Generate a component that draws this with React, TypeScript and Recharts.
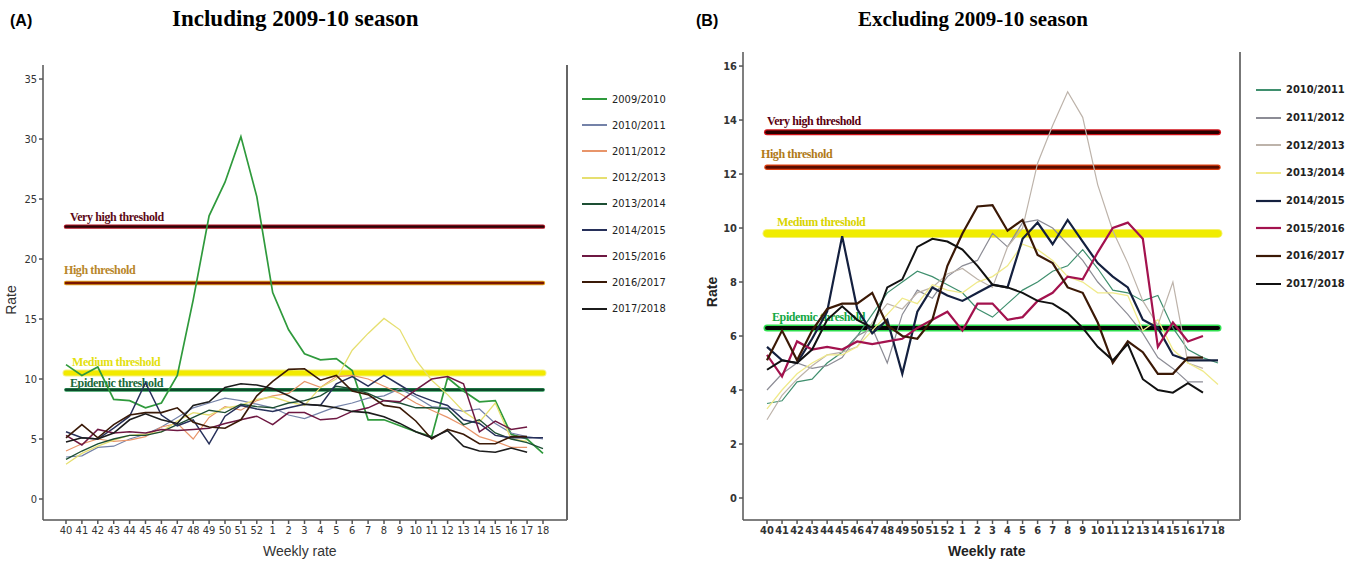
import React from 'react';
import { LineChart, Line, XAxis, YAxis, ReferenceLine } from 'recharts';

// epidemiological weeks, season runs from week 40 to week 18
const weeks = ['40', '41', '42', '43', '44', '45', '46', '47', '48', '49', '50', '51', '52',
  '1', '2', '3', '4', '5', '6', '7', '8', '9', '10', '11', '12', '13', '14', '15', '16', '17', '18'];

const s0910 = [11.2, 10.3, 11.0, 8.3, 8.2, 7.6, 8.0, 10.3, 16.6, 23.6, 26.4, 30.2, 25.2, 17.2, 14.1, 12.1, 11.6, 11.7, 10.7, 6.6, 6.6, 6.1, 5.6, 5.2, 10.1, 9.0, 8.1, 8.2, 5.4, 5.0, 3.8];
const s1011 = [3.5, 3.6, 4.3, 4.4, 5.0, 5.4, 6.0, 6.8, 7.6, 8.0, 8.4, 8.2, 7.9, 7.6, 7.0, 6.7, 7.2, 7.7, 8.0, 8.4, 8.6, 9.2, 8.5, 7.7, 7.6, 7.3, 7.5, 6.3, 5.5, 5.2, 5.0];
const s1112 = [4.0, 4.6, 5.0, 4.8, 4.9, 5.2, 6.0, 6.3, 5.0, 6.8, 7.7, 7.4, 8.2, 8.6, 8.8, 9.8, 9.3, 10.2, 10.3, 10.0, 9.4, 8.8, 8.0, 7.4, 6.8, 6.1, 5.2, 4.8, 4.3, 4.3, null];
const s1213 = [2.9, 3.8, 4.4, 4.9, 5.3, 5.4, 5.6, 6.5, 7.2, 7.0, 7.6, 7.8, 8.3, 8.5, 8.1, 7.8, 9.3, 10.0, 12.4, 13.8, 15.05, 14.1, 11.6, 9.9, 8.7, 7.3, 6.4, 8.0, 5.0, 4.8, null];
const s1314 = [3.3, 4.0, 4.6, 5.0, 5.3, 5.3, 5.6, 6.2, 6.8, 7.4, 7.2, 7.9, 7.7, 7.6, 8.0, 8.2, 8.6, 9.4, 9.2, 8.8, 8.2, 8.0, 7.6, 7.6, 7.5, 6.2, 6.6, 5.5, 5.0, 4.7, 4.2];
const s1415 = [5.6, 5.1, 5.0, 5.9, 6.9, 9.7, 7.0, 6.1, 6.6, 4.6, 6.9, 7.8, 7.5, 7.3, 7.6, 7.9, 7.8, 9.6, 10.2, 9.4, 10.3, 9.5, 8.7, 8.2, 7.8, 6.6, 6.3, 5.3, 5.1, 5.1, 5.1];
const s1516 = [5.3, 4.5, 5.8, 5.5, 5.6, 5.5, 5.8, 5.7, 5.8, 5.9, 6.3, 6.6, 6.9, 6.2, 7.2, 7.2, 6.6, 6.7, 7.3, 7.6, 8.2, 8.1, 9.1, 10.0, 10.2, 9.6, 5.6, 6.5, 5.8, 6.0, null];
const s1617 = [5.1, 6.2, 5.1, 6.2, 7.0, 7.2, 7.2, 7.6, 6.4, 6.0, 5.9, 6.6, 8.6, 9.8, 10.8, 10.85, 9.9, 10.3, 9.0, 8.7, 7.8, 7.6, 6.5, 5.0, 5.8, 5.4, 4.6, 4.6, 5.2, 5.2, null];
const s1718 = [4.75, 5.1, 5.0, 5.5, 6.6, 7.1, 6.6, 6.3, 7.8, 8.1, 9.3, 9.6, 9.5, 9.2, 8.6, 7.9, 7.8, 7.6, 7.3, 7.2, 6.85, 6.3, 5.6, 5.1, 5.7, 4.4, 4.0, 3.9, 4.25, 3.9, null];

const seasonKeys = ['s0910', 's1011', 's1112', 's1213', 's1314', 's1415', 's1516', 's1617', 's1718'];
const seasonNames = ['2009/2010', '2010/2011', '2011/2012', '2012/2013', '2013/2014', '2014/2015', '2015/2016', '2016/2017', '2017/2018'];
const seasonValues = [s0910, s1011, s1112, s1213, s1314, s1415, s1516, s1617, s1718];

const thresholdNames = ['Very high threshold', 'High threshold', 'Medium threshold', 'Epidemic threshold'];
const thresholdsA = [22.7, 18.0, 10.5, 9.1];
const thresholdsB = [13.55, 12.25, 9.8, 6.3];

const ticksA = [0, 5, 10, 15, 20, 25, 30, 35];
const ticksB = [0, 2, 4, 6, 8, 10, 12, 14, 16];

const data = weeks.map((week, i) => {
  const row: Record<string, any> = { week };
  seasonKeys.forEach((k, j) => { row[k] = seasonValues[j][i]; });
  return row;
});

// line look per panel (colour, width)
const lineStyleA: Record<string, [string, number]> = {
  s0910: ['#2f9a3c', 1.7],
  s1011: ['#7482a8', 1.2],
  s1112: ['#e8956a', 1.2],
  s1213: ['#e6df70', 1.3],
  s1314: ['#1d4f34', 1.4],
  s1415: ['#27305a', 1.5],
  s1516: ['#6e1842', 1.5],
  s1617: ['#3a1a08', 1.6],
  s1718: ['#1c1c1c', 1.6],
};
const lineStyleB: Record<string, [string, number]> = {
  s1011: ['#3f8f6e', 1.2],
  s1112: ['#8c8c95', 1.2],
  s1213: ['#bdb3aa', 1.2],
  s1314: ['#f0ea8a', 1.3],
  s1415: ['#14203f', 2.2],
  s1516: ['#a3124e', 2.2],
  s1617: ['#3b1906', 2.2],
  s1718: ['#111111', 2.0],
};

type ThStyle = { core: string; glow: string; coreW: number; glowW: number; text: string; dx: number; dy: number };

const thStyleA: ThStyle[] = [
  { core: '#2a0508', glow: '#b01020', coreW: 2.4, glowW: 4.4, text: '#5c0a16', dx: 4, dy: -6 },
  { core: '#7a1500', glow: '#e0a020', coreW: 2.4, glowW: 4.4, text: '#b8862a', dx: -2, dy: -9 },
  { core: '#f2ea00', glow: '#f6f080', coreW: 5, glowW: 7, text: '#e3df10', dx: 6, dy: -7 },
  { core: '#0d4a2a', glow: '#2e9a5a', coreW: 2.4, glowW: 3.8, text: '#1a6a3a', dx: 4, dy: -3 },
];
const thStyleB: ThStyle[] = [
  { core: '#2a0000', glow: '#d01018', coreW: 3.4, glowW: 6, text: '#5a0010', dx: 0, dy: -7 },
  { core: '#5a0d00', glow: '#e04010', coreW: 3, glowW: 5.4, text: '#b07a18', dx: -6, dy: -9 },
  { core: '#f0ec00', glow: '#f4f070', coreW: 7, glowW: 9, text: '#d9d400', dx: 10, dy: -7 },
  { core: '#050505', glow: '#30e050', coreW: 4, glowW: 7, text: '#13a844', dx: 5, dy: -7 },
];

interface PanelProps {
  keys: string[];
  styles: Record<string, [string, number]>;
  thresholds: number[];
  thStyles: ThStyle[];
  width: number;
  ticks: number[];
  domain: [number, number];
  margin: { top: number; right: number; bottom: number; left: number };
  padLeft: number;
  padRight: number;
  bold: boolean;
}

function Panel(p: PanelProps) {
  const tickStyle = {
    fontSize: 11,
    fontFamily: '"DejaVu Sans Condensed", "Liberation Sans", Arial, sans-serif',
    fill: '#333',
    fontWeight: p.bold ? 700 : 400,
  };
  return (
    <LineChart width={p.width} height={564} data={data} margin={p.margin}>
      <XAxis
        dataKey="week"
        interval={0}
        padding={{ left: p.padLeft, right: p.padRight }}
        height={24}
        tickSize={4}
        tick={tickStyle}
        stroke="#555"
        strokeWidth={1.5}
      />
      <YAxis
        type="number"
        domain={p.domain}
        ticks={p.ticks}
        allowDataOverflow
        width={32}
        tickSize={4}
        tick={tickStyle}
        stroke="#555"
        strokeWidth={1.5}
      />
      {p.thresholds.map((v, i) => {
        const st = p.thStyles[i];
        return (
          <ReferenceLine
            key={'g' + i}
            segment={[{ x: '40', y: v }, { x: '18', y: v }]}
            stroke={st.glow}
            strokeWidth={st.glowW}
            strokeLinecap="round"
          />
        );
      })}
      {p.thresholds.map((v, i) => {
        const st = p.thStyles[i];
        return (
          <ReferenceLine
            key={'c' + i}
            segment={[{ x: '40', y: v }, { x: '18', y: v }]}
            stroke={st.core}
            strokeWidth={st.coreW}
            strokeLinecap="round"
            label={(lp: any) => {
              const vb = lp.viewBox || {};
              return (
                <text
                  x={vb.x + st.dx}
                  y={vb.y + st.dy}
                  fill={st.text}
                  fontSize={12}
                  fontWeight={700}
                  letterSpacing={-0.4}
                  fontFamily='"Liberation Serif", "Times New Roman", serif'
                >
                  {thresholdNames[i]}
                </text>
              );
            }}
          />
        );
      })}
      {p.keys.map((k) => (
        <Line
          key={k}
          type="linear"
          dataKey={k}
          stroke={p.styles[k][0]}
          strokeWidth={p.styles[k][1]}
          dot={false}
          activeDot={false}
          isAnimationActive={false}
        />
      ))}
    </LineChart>
  );
}

function LegendBox({ keys, styles, left, top, gap, bold }: { keys: string[]; styles: Record<string, [string, number]>; left: number; top: number; gap: number; bold: boolean }) {
  return (
    <div style={{ position: 'absolute', left, top }}>
      {keys.map((k) => (
        <div key={k} style={{ display: 'flex', alignItems: 'center', height: gap }}>
          <svg width={26} height={6} style={{ marginRight: 4 }}>
            <line x1={0} y1={3} x2={25} y2={3} stroke={styles[k][0]} strokeWidth={Math.max(2, styles[k][1])} />
          </svg>
          <span style={{ fontFamily: '"DejaVu Sans Condensed", "Liberation Sans", Arial, sans-serif', fontSize: 11, fontWeight: bold ? 700 : 400, color: '#222' }}>
            {seasonNames[seasonKeys.indexOf(k)]}
          </span>
        </div>
      ))}
    </div>
  );
}

const keysA = seasonKeys;
const keysB = seasonKeys.slice(1);

export default function App() {
  const sans = '"Liberation Sans", Arial, sans-serif';
  const serif = '"Liberation Serif", "Times New Roman", serif';
  return (
    <div style={{ position: 'absolute', left: 0, top: 0, width: 1348, height: 564, background: '#fff', overflow: 'hidden' }}>
      <div style={{ position: 'absolute', left: 0, top: 0 }}>
        <Panel
          keys={keysA}
          styles={lineStyleA}
          thresholds={thresholdsA}
          thStyles={thStyleA}
          width={690}
          ticks={ticksA}
          domain={[-1.75, 36.17]}
          margin={{ top: 65, right: 123, bottom: 20, left: 11 }}
          padLeft={23}
          padRight={24}
          bold={false}
        />
      </div>
      <div style={{ position: 'absolute', left: 690, top: 0 }}>
        <Panel
          keys={keysB}
          styles={lineStyleB}
          thresholds={thresholdsB}
          thStyles={thStyleB}
          width={658}
          ticks={ticksB}
          domain={[-0.815, 16.52]}
          margin={{ top: 52, right: 108, bottom: 20, left: 21 }}
          padLeft={24}
          padRight={22}
          bold={true}
        />
      </div>

      {/* right-hand frame lines of both plot boxes */}
      <div style={{ position: 'absolute', left: 566, top: 65, width: 1.5, height: 455, background: '#666' }} />
      <div style={{ position: 'absolute', left: 1239, top: 52, width: 1.5, height: 468, background: '#777' }} />

      <LegendBox keys={keysA} styles={lineStyleA} left={582} top={86} gap={26.2} bold={false} />
      <LegendBox keys={keysB} styles={lineStyleB} left={1256} top={76} gap={27.7} bold={true} />

      <div style={{ position: 'absolute', left: 10, top: 12, fontFamily: sans, fontWeight: 700, fontSize: 16 }}>(A)</div>
      <div style={{ position: 'absolute', left: 172, top: 6, fontFamily: serif, fontWeight: 700, fontSize: 23 }}>Including 2009-10 season</div>
      <div style={{ position: 'absolute', left: 696, top: 12, fontFamily: sans, fontWeight: 700, fontSize: 16 }}>(B)</div>
      <div style={{ position: 'absolute', left: 858, top: 7, fontFamily: serif, fontWeight: 700, fontSize: 21 }}>Excluding 2009-10 season</div>

      <div style={{ position: 'absolute', left: 263, top: 543, fontFamily: sans, fontSize: 14, color: '#333' }}>Weekly rate</div>
      <div style={{ position: 'absolute', left: 948, top: 543, fontFamily: sans, fontWeight: 700, fontSize: 14, color: '#222' }}>Weekly rate</div>
      <div style={{ position: 'absolute', left: -4, top: 292, transform: 'rotate(-90deg)', fontFamily: sans, fontSize: 14, color: '#333' }}>Rate</div>
      <div style={{ position: 'absolute', left: 697, top: 284, transform: 'rotate(-90deg)', fontFamily: sans, fontWeight: 700, fontSize: 14, color: '#222' }}>Rate</div>
    </div>
  );
}
